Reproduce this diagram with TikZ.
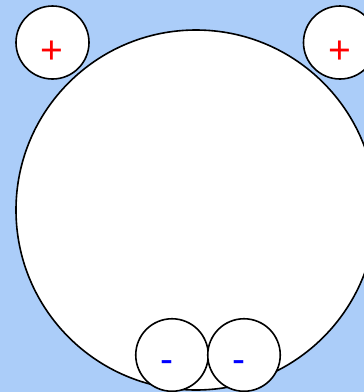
\documentclass[tikz,border=0pt]{standalone}
\usepackage{fontspec}
\setmainfont{Liberation Sans}
\definecolor{bgblue}{RGB}{171,205,249}
\tikzset{
  ball/.style={circle, draw=black, line width=1.6pt, fill=white, inner sep=0pt, minimum size=#1},
  plussign/.style={anchor=base, inner sep=0pt, text=red, font=\fontsize{39}{39}\selectfont},
  minussign/.style={anchor=base, inner sep=0pt, text=blue, font=\fontsize{39}{39}\selectfont},
}
\begin{document}
\begin{tikzpicture}[x=1pt,y=-1pt]
\fill[bgblue] (0,0) rectangle (364,392);
\useasboundingbox (0,0) rectangle (364,392);
\node[ball=360pt] (big) at (196,210) {};
\node[ball=73pt] (tl) at (52.5,42.5) {};
\node[ball=73pt] (tr) at (340,42.5) {};
\node[ball=72.5pt] (bl) at (172,355) {};
\node[ball=72.5pt] (br) at (244,355) {};
\node[plussign] (tlt) at ([shift={(-0.8,20.8)}]tl.center) {+};
\node[plussign] (trt) at ([shift={(0,20.8)}]tr.center) {+};
\node[minussign] (blt) at ([shift={(-4.7,17.7)}]bl.center) {-};
\node[minussign] (brt) at ([shift={(-5,17.7)}]br.center) {-};
\end{tikzpicture}
\end{document}
